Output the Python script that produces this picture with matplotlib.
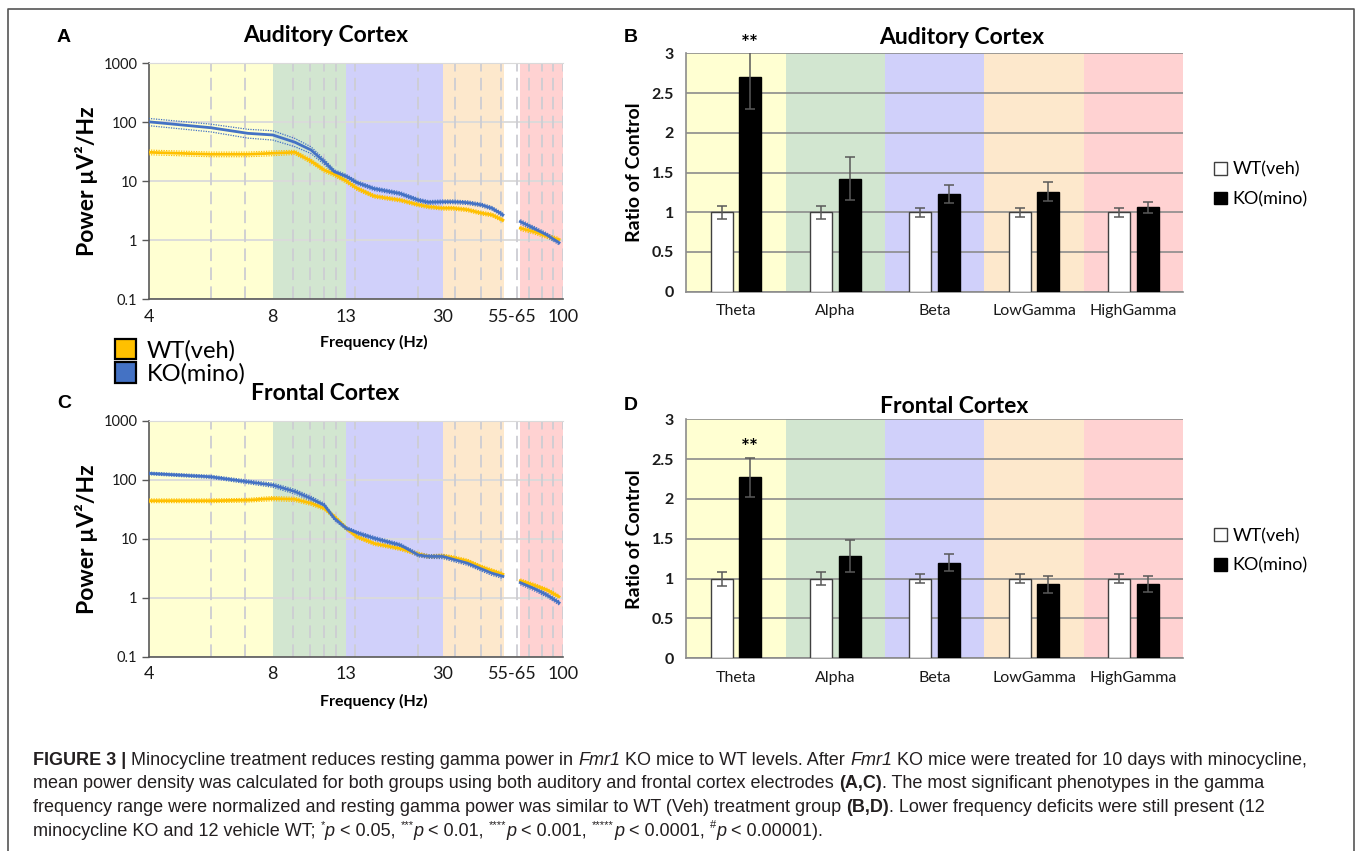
import numpy as np
import matplotlib
matplotlib.use("Agg")
import matplotlib.pyplot as plt
from matplotlib.patches import Patch
from matplotlib.lines import Line2D
from matplotlib.ticker import FuncFormatter, NullLocator

plt.rcParams["font.family"] = ["Lato", "DejaVu Sans"]

# power spectra (uV^2/Hz); 55-65 Hz is left out (line noise)
FREQ = [4, 6, 7.2, 8, 9.5, 10.6, 11.5, 12.2, 13, 14.9, 17.9, 22.5, 25.7, 27.5,
        30, 34, 40, 45.5, 50, 54.5, 65, 76, 87, 97]
AUD_WT = [31, 28.7, 28.7, 29.9, 31, 22, 15.5, 13.1, 10.1, 7.6, 5.6, 4.8, 4.0,
          3.7, 3.5, 3.5, 3.3, 2.9, 2.7, 2.2, 1.6, 1.4, 1.17, 1.03]
AUD_KO = [102, 81, 65, 61, 46, 34, 21.5, 14.5, 12.2, 9.5, 7.5, 6.2, 4.8, 4.4,
          4.5, 4.5, 4.35, 4.0, 3.5, 2.7, 2.07, 1.6, 1.23, 0.91]
FRO_WT = [44, 44, 45, 48, 46.5, 40, 32.7, 23.6, 15, 10.8, 8.3, 6.8, 5.5, 5.0,
          5.1, 4.8, 4.2, 3.35, 2.87, 2.5, 1.94, 1.64, 1.35, 1.04]
FRO_KO = [128, 112, 92, 81, 63, 48, 37, 22, 15, 12.6, 10.2, 7.8, 5.3, 5.0,
          5.0, 4.5, 3.85, 3.1, 2.6, 2.3, 1.8, 1.44, 1.11, 0.82]
# SEM as a fraction of the mean
AUD_WT_SEM = [0.09, 0.09, 0.09, 0.09, 0.08, 0.08, 0.08, 0.08, 0.08, 0.08, 0.07,
              0.07, 0.07, 0.07, 0.07, 0.07, 0.07, 0.07, 0.07, 0.07, 0.08, 0.08,
              0.08, 0.08]
AUD_KO_SEM = [0.14, 0.15, 0.17, 0.18, 0.16, 0.13, 0.10, 0.08, 0.07, 0.07, 0.07,
              0.07, 0.07, 0.07, 0.07, 0.07, 0.07, 0.07, 0.07, 0.07, 0.08, 0.08,
              0.08, 0.08]
FRO_WT_SEM = [0.07, 0.07, 0.07, 0.08, 0.08, 0.08, 0.07, 0.07, 0.07, 0.07, 0.07,
              0.07, 0.07, 0.07, 0.07, 0.07, 0.07, 0.07, 0.07, 0.07, 0.07, 0.07,
              0.07, 0.07]
FRO_KO_SEM = [0.05, 0.06, 0.07, 0.08, 0.09, 0.09, 0.08, 0.07, 0.07, 0.07, 0.07,
              0.07, 0.07, 0.07, 0.08, 0.08, 0.08, 0.08, 0.08, 0.08, 0.08, 0.08,
              0.08, 0.08]

# band power, ratio of WT control
BAND_NAMES = ["Theta", "Alpha", "Beta", "LowGamma", "HighGamma"]
AUD_RATIO_WT = [1.0, 1.0, 1.0, 1.0, 1.0]
AUD_RATIO_WT_ERR = [0.08, 0.08, 0.055, 0.055, 0.055]
AUD_RATIO_KO = [2.7, 1.42, 1.23, 1.26, 1.06]
AUD_RATIO_KO_ERR = [0.4, 0.27, 0.115, 0.12, 0.065]
FRO_RATIO_WT = [1.0, 1.0, 1.0, 1.0, 1.0]
FRO_RATIO_WT_ERR = [0.088, 0.08, 0.06, 0.055, 0.055]
FRO_RATIO_KO = [2.27, 1.28, 1.2, 0.93, 0.93]
FRO_RATIO_KO_ERR = [0.25, 0.2, 0.11, 0.105, 0.1]
AUD_SIG = ["**", "", "", "", ""]
FRO_SIG = ["**", "", "", "", ""]

FREQ_TICKS = [4, 8, 13, 30, 60, 100]
FREQ_TICK_LABELS = ["4", "8", "13", "30", "55-65", "100"]

BAND_COLORS = ["#FFFFD2", "#D2E6D0", "#D0D0FA", "#FDE8CC", "#FFD2D2"]
BAND_EDGES_HZ = [(4, 8), (8, 13), (13, 30), (30, 55), (65, 100)]
WT_COLOR = "#FFC000"
KO_COLOR = "#4472C4"

# the frequency axis is stretched band by band, not log or linear
EDGE_HZ = [4, 8, 13, 30, 55, 65, 100]
EDGE_POS = [0.0, 0.300, 0.4775, 0.7105, 0.8586, 0.8977, 1.0]
GRID_HZ = [6, 7.1, 9.4, 10.5, 11.5, 12.3, 14.6, 25.7, 34.9, 45.5, 53.9, 62.8,
           72.5, 83, 92, 100]

W, H = 1360, 851
CAPTION_SIZE = 13
CAPTION_COLOR = "#231f20"


def fx(px):
    return px / W


def fy(py):
    return 1 - py / H


def freq_fwd(f):
    return np.interp(f, EDGE_HZ, EDGE_POS)


def freq_inv(p):
    return np.interp(p, EDGE_POS, EDGE_HZ)


def spectrum(ax, wt, ko, wt_sem, ko_sem):
    ax.set_xscale("function", functions=(freq_fwd, freq_inv))
    ax.set_yscale("log")
    ax.set_xlim(4, 100)
    ax.set_ylim(0.1, 1000)
    for (lo, hi), c in zip(BAND_EDGES_HZ, BAND_COLORS):
        ax.axvspan(lo, hi, color=c, lw=0, zorder=0)
    for f in GRID_HZ:
        ax.axvline(f, color="#cdcdd3", lw=1.3, ls=(0, (7, 3.5)), zorder=1)
    ax.set_axisbelow(True)
    ax.yaxis.grid(True, color="#dadada", lw=1.3)

    freq = np.array(FREQ)
    for seg in (freq <= 55, freq >= 65):
        f = freq[seg]
        for vals, sem, c in ((wt, wt_sem, WT_COLOR), (ko, ko_sem, KO_COLOR)):
            m = np.array(vals)[seg]
            s = np.array(sem)[seg]
            ax.plot(f, m * (1 + s), color=c, lw=0.9, ls=(0, (1, 1)), zorder=3)
            ax.plot(f, m * (1 - s), color=c, lw=0.9, ls=(0, (1, 1)), zorder=3)
            ax.plot(f, m, color=c, lw=2.0, zorder=4)

    ax.yaxis.set_minor_locator(NullLocator())
    ax.xaxis.set_minor_locator(NullLocator())
    ax.yaxis.set_major_formatter(FuncFormatter(lambda v, p: f"{v:g}"))
    ax.set_xticks(FREQ_TICKS, FREQ_TICK_LABELS)
    ax.tick_params(axis="x", length=0, pad=7, labelsize=13, colors="#1a1a1a")
    ax.tick_params(axis="y", length=5, width=1, pad=3, labelsize=10.5,
                   color="#595959", labelcolor="#1a1a1a")
    for side in ("left", "bottom"):
        ax.spines[side].set_color("#595959")
        ax.spines[side].set_linewidth(1.2)
    ax.spines["top"].set_color("#dadada")
    ax.spines["right"].set_visible(False)
    ax.set_ylabel("Power µV²/Hz", fontsize=16.5, fontweight="bold", labelpad=4)


def ratio_bars(ax, wt, wt_err, ko, ko_err, sig):
    x = np.arange(len(BAND_NAMES))
    for i, c in enumerate(BAND_COLORS):
        ax.axvspan(i - 0.5, i + 0.5, color=c, lw=0, zorder=0)
    ax.set_axisbelow(True)
    ax.yaxis.grid(True, color="#8c8c8c", lw=1.2)
    err_kw = dict(ecolor="#595959", elinewidth=1.1, capsize=3.5, capthick=1.1)
    ax.bar(x - 0.144, wt, 0.223, yerr=wt_err, color="white", edgecolor="#404040",
           lw=1, error_kw=err_kw, zorder=3, label="WT(veh)")
    ax.bar(x + 0.144, ko, 0.223, yerr=ko_err, color="black", edgecolor="black",
           lw=1, error_kw=err_kw, zorder=3, label="KO(mino)")
    for i, s in enumerate(sig):
        if s:
            top = min(ko[i] + ko_err[i], 3.0)
            ax.text(x[i] + 0.144, top + 0.12, s, ha="center", va="center",
                    fontsize=15, fontweight="bold", clip_on=False)
    ax.set_xlim(-0.5, len(BAND_NAMES) - 0.5)
    ax.set_ylim(0, 3)
    ax.set_yticks(np.arange(0, 3.01, 0.5))
    ax.yaxis.set_major_formatter(FuncFormatter(lambda v, p: f"{v:g}"))
    ax.set_xticks(x, BAND_NAMES)
    ax.tick_params(axis="x", length=0, pad=9, labelsize=11.5, colors="#1a1a1a")
    ax.tick_params(axis="y", length=0, pad=9, labelsize=11.5, colors="#1a1a1a")
    for lab in ax.get_yticklabels():
        lab.set_fontweight("bold")
    for side in ("left", "bottom"):
        ax.spines[side].set_color("#8c8c8c")
        ax.spines[side].set_linewidth(1.2)
    ax.spines["top"].set_visible(False)
    ax.spines["right"].set_visible(False)
    ax.set_ylabel("Ratio of Control", fontsize=14, fontweight="bold", labelpad=6)
    handles = [Patch(facecolor="white", edgecolor="#404040", lw=1),
               Patch(facecolor="black", edgecolor="black", lw=1)]
    ax.legend(handles, ["WT(veh)", "KO(mino)"], loc="center left",
              bbox_to_anchor=(1.045, 0.45), frameon=False, fontsize=13,
              handlelength=0.7, handleheight=0.7, handletextpad=0.3,
              labelspacing=0.75, borderpad=0)


def caption_line(fig, x, y, runs):
    """Write one caption line as consecutive runs of plain/bold/italic/superscript."""
    renderer = fig.canvas.get_renderer()
    for text, style in runs:
        kw = dict(fontsize=CAPTION_SIZE, family="Liberation Sans",
                  color=CAPTION_COLOR, va="baseline", ha="left")
        dy = 0.0
        if style == "b":
            kw["fontweight"] = "bold"
        elif style == "i":
            kw["fontstyle"] = "italic"
        elif style == "sup":
            kw["fontsize"] = CAPTION_SIZE * 0.62
            dy = CAPTION_SIZE * 0.42 * 100 / 72 / H
        # advance = width(text + "|") - width("|") keeps trailing spaces
        probe = fig.text(0, 0, text + "|", **kw)
        bar = fig.text(0, 0, "|", **kw)
        adv = (probe.get_window_extent(renderer).width
               - bar.get_window_extent(renderer).width)
        probe.remove()
        bar.remove()
        fig.text(x, y + dy, text, **kw)
        x += adv / W


fig = plt.figure(figsize=(W / 100, H / 100), dpi=100)

ax_a = fig.add_axes([fx(148.5), fy(299.3), fx(562.7 - 148.5), (299.3 - 63.3) / H])
ax_c = fig.add_axes([fx(148.5), fy(656.7), fx(562.7 - 148.5), (656.7 - 420.7) / H])
ax_b = fig.add_axes([fx(686.4), fy(291.7), fx(1183 - 686.4), (291.7 - 53.3) / H])
ax_d = fig.add_axes([fx(686.4), fy(658.3), fx(1183 - 686.4), (658.3 - 419.3) / H])

spectrum(ax_a, AUD_WT, AUD_KO, AUD_WT_SEM, AUD_KO_SEM)
spectrum(ax_c, FRO_WT, FRO_KO, FRO_WT_SEM, FRO_KO_SEM)
ratio_bars(ax_b, AUD_RATIO_WT, AUD_RATIO_WT_ERR, AUD_RATIO_KO, AUD_RATIO_KO_ERR, AUD_SIG)
ratio_bars(ax_d, FRO_RATIO_WT, FRO_RATIO_WT_ERR, FRO_RATIO_KO, FRO_RATIO_KO_ERR, FRO_SIG)

# titles, panel letters, frequency labels
title_kw = dict(ha="center", va="center", fontsize=16.5, fontweight="bold")
fig.text(fx(326), fy(36), "Auditory Cortex", **title_kw)
fig.text(fx(962), fy(38), "Auditory Cortex", **title_kw)
fig.text(fx(325), fy(393), "Frontal Cortex", **title_kw)
fig.text(fx(954), fy(406), "Frontal Cortex", **title_kw)
letter_kw = dict(ha="center", va="center", fontsize=14, fontweight="bold",
                 family="Liberation Sans")
for (px, py), s in zip([(64, 37), (631, 37), (64, 404), (631, 405)], "ABCD"):
    fig.text(fx(px), fy(py), s, **letter_kw)
for py in (342, 701):
    fig.text(fx(374), fy(py), "Frequency (Hz)", ha="center", va="center",
             fontsize=11.5, fontweight="bold")

fig.legend([Patch(facecolor=WT_COLOR, edgecolor="black", lw=1.6),
            Patch(facecolor=KO_COLOR, edgecolor="black", lw=1.6)],
           ["WT(veh)", "KO(mino)"], loc="upper left",
           bbox_to_anchor=(fx(115), fy(339)), frameon=False, fontsize=17,
           handlelength=0.9, handleheight=0.95, handletextpad=0.45,
           labelspacing=0.05, borderpad=0, borderaxespad=0)

# page frame, open at the bottom
fig.add_artist(Line2D([fx(8), fx(8), fx(1354), fx(1354)],
                      [0, fy(9), fy(9), 0], color="#555555", lw=1.2))

caption = [
    [("FIGURE 3 | ", "b"),
     ("Minocycline treatment reduces resting gamma power in ", "r"), ("Fmr1", "i"),
     (" KO mice to WT levels. After ", "r"), ("Fmr1", "i"),
     (" KO mice were treated for 10 days with minocycline,", "r")],
    [("mean power density was calculated for both groups using both auditory and "
      "frontal cortex electrodes ", "r"), ("(A,C)", "b"),
     (". The most significant phenotypes in the gamma", "r")],
    [("frequency range were normalized and resting gamma power was similar to WT "
      "(Veh) treatment group ", "r"), ("(B,D)", "b"),
     (". Lower frequency deficits were still present (12", "r")],
    [("minocycline KO and 12 vehicle WT; ", "r"), ("*", "sup"), ("p", "i"),
     (" < 0.05, ", "r"), ("***", "sup"), ("p", "i"), (" < 0.01, ", "r"),
     ("****", "sup"), ("p", "i"), (" < 0.001, ", "r"), ("*****", "sup"),
     ("p", "i"), (" < 0.0001, ", "r"), ("#", "sup"), ("p", "i"),
     (" < 0.00001).", "r")],
]
for i, runs in enumerate(caption):
    caption_line(fig, fx(33), fy(765 + 23.5 * i), runs)

fig.savefig("out.png", dpi=100)
